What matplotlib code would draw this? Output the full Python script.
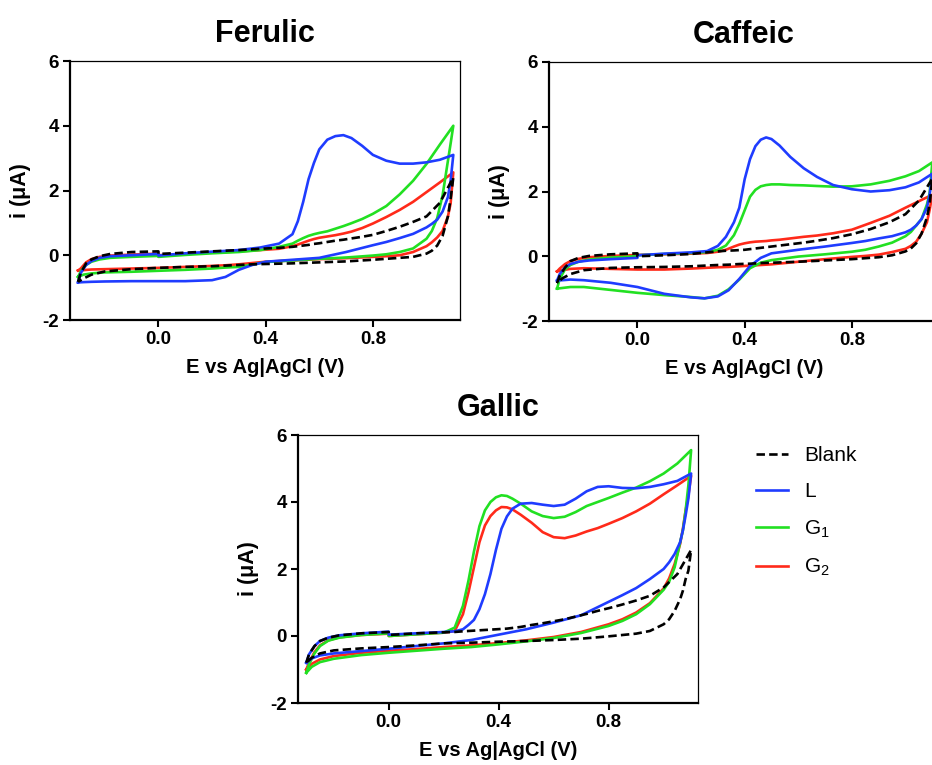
import numpy as np
import matplotlib
matplotlib.use("Agg")
import matplotlib.pyplot as plt

plt.rcParams['font.family'] = ['Liberation Sans', 'DejaVu Sans']
plt.rcParams['mathtext.default'] = 'regular'
plt.rcParams['axes.unicode_minus'] = False

# ---------------- Ferulic ----------------
fer_E_fwd = [-0.30, -0.29, -0.27, -0.25, -0.22, -0.18, -0.10, 0.0, 0.0, 0.10, 0.20, 0.30, 0.38,
             0.45, 0.50, 0.52, 0.54, 0.56, 0.58, 0.60, 0.63, 0.66, 0.69, 0.72, 0.76, 0.80,
             0.85, 0.90, 0.95, 1.00, 1.05, 1.10]
fer_E_rev = [1.10, 1.09, 1.08, 1.06, 1.04, 1.02, 1.00, 0.95, 0.90, 0.85, 0.80, 0.70, 0.60,
             0.50, 0.40, 0.35, 0.30, 0.25, 0.20, 0.10, 0.0, -0.10, -0.20, -0.25, -0.28, -0.30]
fer_blank_fwd = [-0.82, -0.55, -0.25, -0.13, -0.03, 0.04, 0.10, 0.12, 0.04, 0.08, 0.12, 0.16, 0.20,
                 0.23, 0.26, 0.28, 0.30, 0.32, 0.35, 0.37, 0.41, 0.45, 0.48, 0.52, 0.57, 0.63,
                 0.75, 0.88, 1.03, 1.20, 1.62, 2.40]
fer_blank_rev = [2.40, 1.75, 1.20, 0.60, 0.30, 0.14, 0.05, -0.05, -0.08, -0.11, -0.14, -0.19, -0.22,
                 -0.25, -0.27, -0.28, -0.30, -0.32, -0.34, -0.36, -0.39, -0.43, -0.50, -0.60, -0.72, -0.82]
fer_L_fwd = [-0.84, -0.55, -0.30, -0.18, -0.08, -0.03, 0.00, 0.04, -0.01, 0.06, 0.11, 0.16, 0.24,
             0.36, 0.65, 1.05, 1.65, 2.35, 2.85, 3.27, 3.57, 3.68, 3.71, 3.62, 3.38, 3.10,
             2.92, 2.83, 2.83, 2.87, 2.95, 3.10]
fer_L_rev = [3.10, 2.30, 1.80, 1.35, 1.10, 0.97, 0.86, 0.66, 0.53, 0.41, 0.31, 0.10, -0.08,
             -0.14, -0.20, -0.30, -0.45, -0.67, -0.77, -0.80, -0.80, -0.80, -0.81, -0.82, -0.83, -0.84]
fer_G1_fwd = [-0.67, -0.50, -0.30, -0.20, -0.13, -0.08, -0.05, -0.02, -0.05, 0.01, 0.06, 0.10, 0.16,
              0.26, 0.36, 0.45, 0.53, 0.60, 0.65, 0.69, 0.74, 0.82, 0.90, 0.99, 1.12, 1.28,
              1.52, 1.88, 2.30, 2.82, 3.42, 4.00]
fer_G1_rev = [4.00, 3.45, 2.92, 1.85, 1.15, 0.75, 0.51, 0.21, 0.10, 0.03, -0.01, -0.07, -0.11,
              -0.16, -0.21, -0.29, -0.36, -0.38, -0.41, -0.45, -0.48, -0.51, -0.53, -0.56, -0.60, -0.67]
fer_G2_fwd = [-0.47, -0.41, -0.22, -0.12, -0.05, -0.01, 0.02, 0.05, 0.00, 0.05, 0.08, 0.12, 0.16,
              0.20, 0.28, 0.33, 0.39, 0.45, 0.50, 0.54, 0.58, 0.62, 0.67, 0.73, 0.84, 0.98,
              1.18, 1.40, 1.65, 1.95, 2.25, 2.56]
fer_G2_rev = [2.56, 1.60, 1.20, 0.75, 0.55, 0.40, 0.28, 0.10, 0.00, -0.03, -0.05, -0.09, -0.12,
              -0.16, -0.20, -0.24, -0.28, -0.31, -0.33, -0.36, -0.39, -0.41, -0.43, -0.44, -0.46, -0.47]

# ---------------- Caffeic ----------------
caf_E_fwd = [-0.30, -0.29, -0.27, -0.25, -0.22, -0.18, -0.10, 0.0, 0.0, 0.10, 0.20, 0.26, 0.30,
             0.33, 0.36, 0.38, 0.40, 0.42, 0.44, 0.46, 0.48, 0.50, 0.53, 0.57, 0.62, 0.67,
             0.73, 0.80, 0.87, 0.94, 1.00, 1.05, 1.10]
caf_E_rev = [1.10, 1.09, 1.08, 1.06, 1.04, 1.02, 1.00, 0.95, 0.90, 0.85, 0.80, 0.70, 0.60, 0.50,
             0.46, 0.42, 0.38, 0.34, 0.30, 0.25, 0.20, 0.10, 0.0, -0.10, -0.20, -0.25, -0.28, -0.30]
caf_blank_fwd = [-0.83, -0.60, -0.35, -0.15, -0.05, 0.01, 0.06, 0.09, 0.00, 0.03, 0.07, 0.12, 0.15,
                 0.17, 0.18, 0.19, 0.20, 0.22, 0.24, 0.26, 0.28, 0.30, 0.33, 0.37, 0.42, 0.48,
                 0.56, 0.68, 0.84, 1.05, 1.30, 1.72, 2.40]
caf_blank_rev = [2.40, 1.60, 1.20, 0.70, 0.40, 0.24, 0.15, 0.03, -0.03, -0.06, -0.09, -0.13, -0.17, -0.20,
                 -0.21, -0.23, -0.24, -0.26, -0.27, -0.29, -0.31, -0.33, -0.34, -0.36, -0.43, -0.55, -0.68, -0.83]
caf_L_fwd = [-0.75, -0.55, -0.34, -0.24, -0.17, -0.13, -0.09, -0.05, 0.03, 0.08, 0.12, 0.16, 0.32,
             0.60, 1.05, 1.50, 2.38, 3.00, 3.40, 3.60, 3.67, 3.62, 3.42, 3.07, 2.72, 2.45,
             2.20, 2.07, 2.00, 2.04, 2.13, 2.28, 2.55]
caf_L_rev = [2.55, 1.90, 1.50, 1.15, 0.95, 0.82, 0.74, 0.62, 0.55, 0.47, 0.41, 0.30, 0.20, 0.09,
             -0.05, -0.30, -0.70, -1.05, -1.24, -1.30, -1.27, -1.16, -0.95, -0.82, -0.74, -0.72, -0.74, -0.75]
caf_G1_fwd = [-1.00, -0.70, -0.40, -0.27, -0.17, -0.10, -0.04, 0.00, 0.03, 0.07, 0.10, 0.13, 0.20,
              0.33, 0.65, 1.00, 1.42, 1.84, 2.05, 2.16, 2.20, 2.22, 2.22, 2.20, 2.19, 2.17,
              2.15, 2.16, 2.22, 2.33, 2.47, 2.63, 2.90]
caf_G1_rev = [2.90, 1.94, 1.60, 1.15, 0.95, 0.75, 0.62, 0.42, 0.30, 0.20, 0.14, 0.06, -0.01, -0.12,
              -0.20, -0.37, -0.72, -1.02, -1.22, -1.30, -1.26, -1.20, -1.13, -1.04, -0.95, -0.95, -0.98, -1.00]
caf_G2_fwd = [-0.47, -0.38, -0.24, -0.15, -0.08, -0.03, 0.01, 0.04, 0.04, 0.06, 0.08, 0.10, 0.14,
              0.20, 0.30, 0.36, 0.40, 0.43, 0.45, 0.46, 0.47, 0.49, 0.51, 0.55, 0.60, 0.64,
              0.71, 0.82, 1.03, 1.25, 1.50, 1.70, 1.90]
caf_G2_rev = [1.90, 1.43, 1.05, 0.70, 0.45, 0.32, 0.23, 0.13, 0.05, 0.01, -0.02, -0.09, -0.17, -0.25,
              -0.27, -0.29, -0.31, -0.33, -0.34, -0.36, -0.38, -0.41, -0.41, -0.39, -0.37, -0.39, -0.43, -0.47]

# ---------------- Gallic ----------------
gal_E_fwd = [-0.30, -0.29, -0.27, -0.25, -0.22, -0.18, -0.10, 0.0, 0.0, 0.10, 0.20, 0.24, 0.27,
             0.29, 0.31, 0.33, 0.35, 0.37, 0.39, 0.41, 0.43, 0.45, 0.48, 0.52, 0.56, 0.60,
             0.64, 0.68, 0.72, 0.76, 0.80, 0.85, 0.90, 0.95, 1.00, 1.05, 1.10]
gal_E_rev = [1.10, 1.09, 1.08, 1.07, 1.06, 1.04, 1.02, 1.00, 0.95, 0.90, 0.85, 0.80, 0.70,
             0.60, 0.50, 0.40, 0.30, 0.20, 0.10, 0.0, -0.10, -0.20, -0.25, -0.28, -0.30]
gal_blank_fwd = [-0.80, -0.55, -0.30, -0.15, -0.05, 0.02, 0.08, 0.12, 0.03, 0.08, 0.11, 0.12, 0.14,
                 0.15, 0.16, 0.17, 0.18, 0.19, 0.20, 0.21, 0.22, 0.24, 0.27, 0.33, 0.38, 0.44,
                 0.50, 0.58, 0.66, 0.75, 0.83, 0.94, 1.06, 1.20, 1.45, 1.85, 2.57]
gal_blank_rev = [2.57, 1.95, 1.70, 1.35, 1.10, 0.75, 0.50, 0.35, 0.15, 0.07, 0.03, -0.01, -0.08,
                 -0.12, -0.15, -0.17, -0.20, -0.22, -0.28, -0.33, -0.37, -0.43, -0.52, -0.65, -0.80]
gal_L_fwd = [-0.80, -0.55, -0.30, -0.15, -0.05, 0.02, 0.08, 0.13, 0.04, 0.08, 0.12, 0.14, 0.20,
             0.33, 0.48, 0.80, 1.25, 1.85, 2.57, 3.20, 3.57, 3.80, 3.95, 3.97, 3.92, 3.88,
             3.92, 4.10, 4.32, 4.45, 4.47, 4.42, 4.41, 4.45, 4.53, 4.63, 4.85]
gal_L_rev = [4.85, 4.10, 3.60, 3.15, 2.80, 2.45, 2.20, 2.00, 1.70, 1.43, 1.22, 1.02, 0.62,
             0.40, 0.20, 0.04, -0.12, -0.22, -0.30, -0.38, -0.45, -0.52, -0.58, -0.67, -0.80]
gal_G1_fwd = [-1.10, -0.85, -0.52, -0.30, -0.14, -0.05, 0.03, 0.08, 0.00, 0.05, 0.10, 0.25, 0.90,
              1.65, 2.52, 3.28, 3.75, 4.00, 4.14, 4.20, 4.18, 4.10, 3.95, 3.72, 3.58, 3.52,
              3.56, 3.70, 3.88, 4.00, 4.12, 4.28, 4.43, 4.62, 4.85, 5.15, 5.55]
gal_G1_rev = [5.55, 4.50, 3.75, 3.15, 2.80, 2.05, 1.62, 1.38, 0.95, 0.65, 0.45, 0.30, 0.09,
              -0.06, -0.16, -0.25, -0.33, -0.38, -0.44, -0.50, -0.57, -0.68, -0.78, -0.92, -1.10]
gal_G2_fwd = [-1.00, -0.80, -0.48, -0.28, -0.13, -0.04, 0.03, 0.07, 0.00, 0.05, 0.10, 0.15, 0.65,
              1.30, 2.05, 2.80, 3.30, 3.58, 3.75, 3.85, 3.84, 3.78, 3.62, 3.38, 3.10, 2.95,
              2.92, 3.00, 3.12, 3.22, 3.35, 3.52, 3.72, 3.95, 4.23, 4.50, 4.78]
gal_G2_rev = [4.78, 4.20, 3.75, 3.20, 2.75, 2.15, 1.72, 1.42, 0.98, 0.70, 0.50, 0.35, 0.12,
              -0.03, -0.13, -0.21, -0.28, -0.33, -0.39, -0.44, -0.50, -0.60, -0.70, -0.83, -1.00]

labels = ['Blank', 'L', 'G$_1$', 'G$_2$']
colors = ['black', '#1f3cff', '#22e022', '#ff2a1a']


def draw_cv(ax, title, e_fwd, e_rev, series):
    # series in legend order: blank, L, G1, G2; drawn G2 first, blank on top
    handles = [None] * 4
    for k in [3, 2, 1, 0]:
        fwd, rev = series[k]
        e = list(e_fwd) + list(e_rev)
        i = list(fwd) + list(rev)
        ls = (0, (3.2, 1.6)) if k == 0 else '-'
        ln, = ax.plot(e, i, color=colors[k], lw=1.9, ls=ls, label=labels[k],
                      solid_joinstyle='round')
        handles[k] = ln
    ax.set_xlim(-0.33, 1.125)
    ax.set_ylim(-2, 6)
    ax.set_xticks([0.0, 0.4, 0.8])
    ax.set_xticklabels(['0.0', '0.4', '0.8'])
    ax.set_yticks([-2, 0, 2, 4, 6])
    ax.tick_params(direction='out', length=5, width=1.5, labelsize=13.5, pad=3)
    for lab in ax.get_xticklabels() + ax.get_yticklabels():
        lab.set_fontweight('bold')
    for s in ['left', 'bottom']:
        ax.spines[s].set_linewidth(1.6)
    for s in ['top', 'right']:
        ax.spines[s].set_linewidth(0.9)
    ax.set_xlabel('E vs Ag|AgCl (V)', fontsize=14.5, fontweight='bold', labelpad=7)
    ax.set_ylabel('i (μA)', fontsize=15.5, fontweight='bold', labelpad=8)
    ax.set_title(title, fontsize=22, fontweight='bold', pad=14)
    return handles


fig = plt.figure(figsize=(9.32, 7.65), dpi=100)

ax1 = fig.add_axes([70 / 932, 1 - 320 / 765, 390 / 932, 259 / 765])
draw_cv(ax1, 'Ferulic', fer_E_fwd, fer_E_rev,
        [(fer_blank_fwd, fer_blank_rev), (fer_L_fwd, fer_L_rev),
         (fer_G1_fwd, fer_G1_rev), (fer_G2_fwd, fer_G2_rev)])

ax2 = fig.add_axes([549 / 932, 1 - 321 / 765, 390 / 932, 259 / 765])
draw_cv(ax2, 'Caffeic', caf_E_fwd, caf_E_rev,
        [(caf_blank_fwd, caf_blank_rev), (caf_L_fwd, caf_L_rev),
         (caf_G1_fwd, caf_G1_rev), (caf_G2_fwd, caf_G2_rev)])

ax3 = fig.add_axes([298 / 932, 1 - 703 / 765, 400 / 932, 268 / 765])
h = draw_cv(ax3, 'Gallic', gal_E_fwd, gal_E_rev,
            [(gal_blank_fwd, gal_blank_rev), (gal_L_fwd, gal_L_rev),
             (gal_G1_fwd, gal_G1_rev), (gal_G2_fwd, gal_G2_rev)])

fig.legend(h, labels, loc='upper left', bbox_to_anchor=(748 / 932, 1 - 438 / 765),
           frameon=False, fontsize=15, handlelength=1.5, handletextpad=0.8,
           labelspacing=0.82, borderaxespad=0)

fig.savefig('out.png', dpi=100)
